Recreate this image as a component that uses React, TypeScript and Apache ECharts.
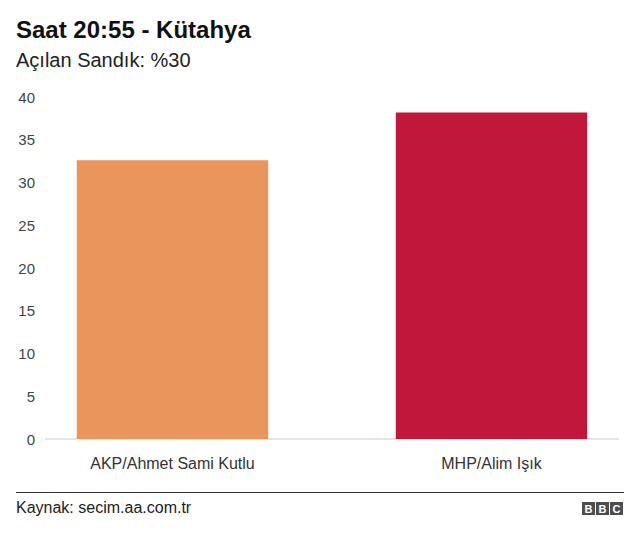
import React, { useEffect, useRef } from "react";
import * as echarts from "echarts";

const categories = ["AKP/Ahmet Sami Kutlu", "MHP/Alim Işık"];
const values = [32.6, 38.2];
const barColors = ["#E9955C", "#C0173A"];
const yTicks = [0, 5, 10, 15, 20, 25, 30, 35, 40];

const titleText = "Saat 20:55 - Kütahya";
const subtitleText = "Açılan Sandık: %30";
const sourceText = "Kaynak: secim.aa.com.tr";
const font = "'Liberation Sans', Arial, Helvetica, sans-serif";

export default function App() {
  const ref = useRef<HTMLDivElement>(null);
  useEffect(() => {
    document.body.style.margin = "0";
    document.body.style.overflow = "hidden";
    const chart = echarts.init(ref.current!, null, { renderer: "svg" });
    const bbcLetters = ["B", "B", "C"];
    const bbc: any[] = [];
    bbcLetters.forEach((l, i) => {
      bbc.push({
        type: "rect",
        shape: { x: 582 + i * 14, y: 502, width: 13, height: 13 },
        style: { fill: "#4d4d4d" },
      });
      bbc.push({
        type: "text",
        x: 582 + i * 14 + 6.5,
        y: 508.5,
        style: {
          text: l,
          fill: "#fff",
          font: "bold 11px " + font,
          align: "center",
          verticalAlign: "middle",
        },
      });
    });
    chart.setOption({
      animation: false,
      backgroundColor: "#fff",
      textStyle: { fontFamily: font },
      title: [
        {
          text: titleText,
          left: 16,
          top: 17,
          padding: 0,
          textStyle: { fontSize: 24, fontWeight: "bold", color: "#111", fontFamily: font },
        },
        {
          text: subtitleText,
          left: 16,
          top: 50,
          padding: 0,
          textStyle: { fontSize: 20, fontWeight: "normal", color: "#222", fontFamily: font },
        },
      ],
      grid: { left: 13, right: 9, top: 97, height: 342, containLabel: false },
      xAxis: {
        type: "category",
        data: categories,
        axisLine: { show: false },
        axisTick: { show: false },
        axisLabel: { fontSize: 16, color: "#333", margin: 16, fontFamily: font },
      },
      yAxis: {
        type: "value",
        min: yTicks[0],
        max: yTicks[yTicks.length - 1],
        interval: 5,
        splitLine: { show: false },
        axisLine: { show: false },
        axisTick: { show: false },
        axisLabel: { fontSize: 15, color: "#444", margin: -22, fontFamily: font },
      },
      series: [
        {
          type: "bar",
          data: values.map((v, i) => ({ value: v, itemStyle: { color: barColors[i] } })),
          barCategoryGap: "40%",
        },
      ],
      graphic: [
        {
          type: "line",
          shape: { x1: 45, y1: 439, x2: 619, y2: 439 },
          style: { stroke: "#cccccc", lineWidth: 1 },
          z: 0,
        },
        {
          type: "line",
          shape: { x1: 16, y1: 492.5, x2: 624, y2: 492.5 },
          style: { stroke: "#333", lineWidth: 1 },
        },
        {
          type: "text",
          x: 16,
          y: 507,
          style: {
            text: sourceText,
            fill: "#222",
            font: "16px " + font,
            verticalAlign: "middle",
          },
        },
        ...bbc,
      ],
    });
    return () => chart.dispose();
  }, []);
  return (
    <div style={{ width: 640, height: 537, overflow: "hidden", position: "relative" }}>
      <div ref={ref} style={{ width: 660, height: 537, position: "absolute", left: 0, top: 0 }} />
    </div>
  );
}
